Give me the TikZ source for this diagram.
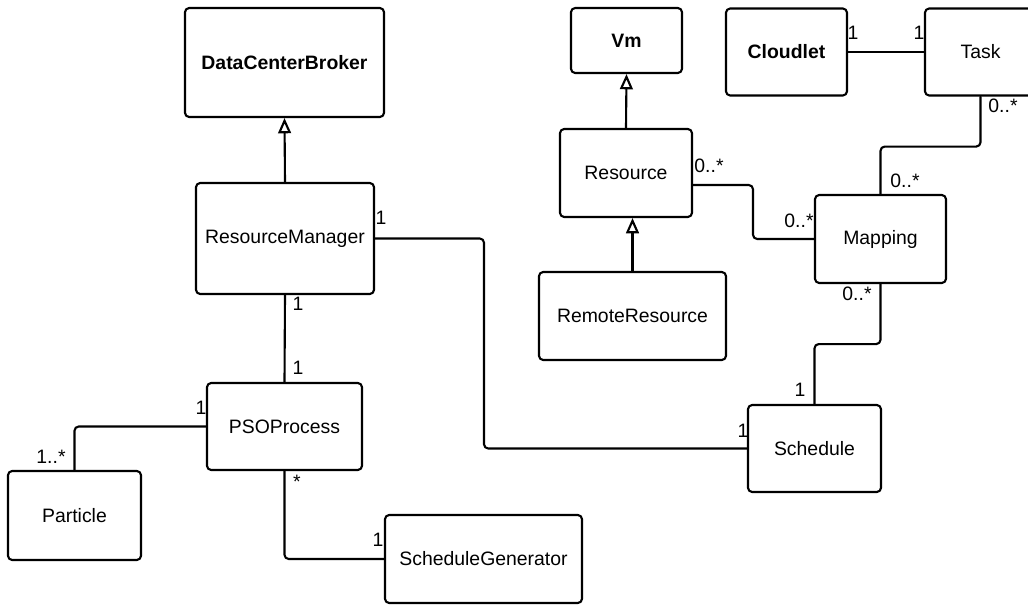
\documentclass[tikz,border=0pt]{standalone}
\usepackage{fontspec}
\setmainfont{Liberation Sans}
\usetikzlibrary{arrows.meta, positioning}

\begin{document}
\begin{tikzpicture}[line cap=round, line join=round, >=Triangle, x=0.025cm, y=-0.025cm,
    cls/.style={draw, line width=1.5pt, rounded corners=3pt, align=center, inner sep=0pt,
        font=\fontsize{13.8}{16}\selectfont},
    mult/.style={inner sep=0pt, font=\fontsize{13.8}{16}\selectfont},
    assoc/.style={line width=1.5pt, rounded corners=3pt},
    gen/.style={line width=1.5pt, -{Triangle[open, length=0.38cm, width=0.32cm]}}]
    \useasboundingbox (0,0) rectangle (1028,606);

    \node[cls, minimum width=4.975cm, minimum height=2.725cm] (broker) at (284.5,62.5) {\textbf{DataCenterBroker}};
    \node[cls, minimum width=2.775cm, minimum height=1.625cm] (vm) at (626.5,40.5) {\textbf{Vm}};
    \node[cls, minimum width=3.025cm, minimum height=2.175cm] (cloudlet) at (786.5,52) {\textbf{Cloudlet}};
    \node[cls, minimum width=2.775cm, minimum height=2.175cm] (task) at (980.5,52) {Task};
    \node[cls, minimum width=3.3cm, minimum height=2.2cm] (resource) at (626,173) {Resource};
    \node[cls, minimum width=4.675cm, minimum height=2.2cm] (remote) at (632.5,316) {RemoteResource};
    \node[cls, minimum width=3.275cm, minimum height=2.2cm] (mapping) at (880.5,239) {Mapping};
    \node[cls, minimum width=4.45cm, minimum height=2.775cm] (resmgr) at (285,238.5) {ResourceManager};
    \node[cls, minimum width=3.875cm, minimum height=2.175cm] (pso) at (284.5,426.5) {PSOProcess};
    \node[cls, minimum width=3.325cm, minimum height=2.225cm] (particle) at (74.5,515.5) {Particle};
    \node[cls, minimum width=4.925cm, minimum height=2.2cm] (schedgen) at (483.5,559) {ScheduleGenerator};
    \node[cls, minimum width=3.325cm, minimum height=2.175cm] (schedule) at (814.5,448.5) {Schedule};

    \coordinate (resbend) at (753,0);
    \coordinate (mgrbend) at (484,0);

    % generalisations
    \draw[gen] (resmgr.north) -- (broker.south);
    \draw[gen] (resource.north) -- (vm.south);
    \draw[gen] (remote.north) -- (remote.north |- resource.south);

    % associations
    \draw[assoc] (cloudlet.east) -- (task.west);
    \draw[assoc] (task.south) -- ++(0,50) -| (mapping.north);
    \draw[assoc] ([yshift=-0.3cm]resource.east) -| (resbend |- mapping.west) -- (mapping.west);
    \draw[assoc] (mapping.south) -- ++(0,60) -| (schedule.north);
    \draw[assoc] (resmgr.east) -| (mgrbend |- schedule.west) -- (schedule.west);
    \draw[assoc] (resmgr.south) -- (pso.north);
    \draw[assoc] (pso.west) -| (particle.north);
    \draw[assoc] (pso.south) |- (schedgen.west);

    % multiplicities
    \node[mult] (cloudletm) at (853,32.5) {1};
    \node[mult] (taskm) at (919,32.5) {1};
    \node[mult] (taskdown) at (1003,105.5) {0..*};
    \node[mult] (mapup) at (905,180.5) {0..*};
    \node[mult] (resright) at (709,166) {0..*};
    \node[mult] (mapleft) at (799,220.5) {0..*};
    \node[mult] (mapdown) at (857,293.5) {0..*};
    \node[mult] (schedup) at (800,390) {1};
    \node[mult] (schedleft) at (743,430.5) {1};
    \node[mult] (mgrright) at (381,218) {1};
    \node[mult] (mgrdown) at (298,304) {1};
    \node[mult] (psoup) at (298,368) {1};
    \node[mult] (psoleft) at (201,408) {1};
    \node[mult] (particleup) at (51,457) {1..*};
    \node[mult, anchor=north] (psodown) at (297,475) {*};
    \node[mult] (genleft) at (378,540) {1};
\end{tikzpicture}
\end{document}
